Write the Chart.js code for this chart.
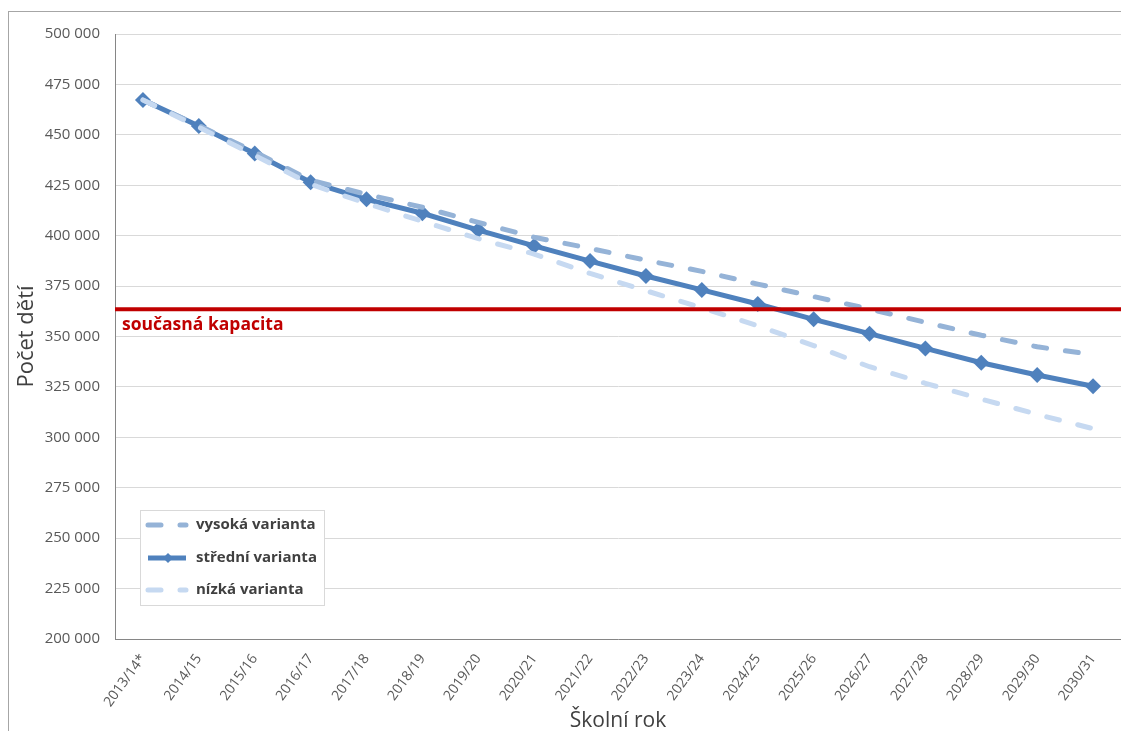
<!DOCTYPE html>
<html>
<head>
<meta charset="utf-8">
<script src="https://cdn.jsdelivr.net/npm/chart.js@4"></script>
<style>
  html, body { margin: 0; padding: 0; background: #fff; }
  #wrap { width: 1121px; height: 731px; }
</style>
</head>
<body>
<div id="wrap"><canvas id="projekce" width="1121" height="731"></canvas></div>
<script>
// school years (x axis)
const skolniRoky = ['2013/14*', '2014/15', '2015/16', '2016/17', '2017/18', '2018/19',
  '2019/20', '2020/21', '2021/22', '2022/23', '2023/24', '2024/25', '2025/26',
  '2026/27', '2027/28', '2028/29', '2029/30', '2030/31'];

// projected number of children, three variants
const vysoka = [467300, 454600, 441500, 427500, 420500, 414100, 406600, 399200, 393700,
  387800, 382300, 376000, 369800, 363600, 357000, 350600, 344900, 341000];
const stredni = [467300, 454400, 440700, 426500, 418000, 411100, 402800, 394900, 387400,
  380000, 373100, 366100, 358500, 351400, 344100, 337000, 330900, 325300];
const nizka = [467300, 453800, 439800, 425500, 416000, 407100, 398500, 390900, 381300,
  372700, 364300, 355300, 345500, 335000, 326800, 319000, 311400, 304300];

// current capacity
const kapacita = 363500;
const kapacitaPopis = 'současná kapacita';

const font = '"Open Sans", "DejaVu Sans", sans-serif';

// outer frame + capacity line + legend inside plot
const kresleni = {
  id: 'kresleni',
  beforeDraw(chart) {
    const ctx = chart.ctx;
    ctx.save();
    ctx.strokeStyle = '#a6a6a6';
    ctx.lineWidth = 1;
    ctx.strokeRect(8.5, 11.5, 1300, 1000);
    ctx.restore();
  },
  afterDatasetsDraw(chart) {
    const ctx = chart.ctx;
    const area = chart.chartArea;
    const y = chart.scales.y.getPixelForValue(kapacita);
    ctx.save();
    ctx.strokeStyle = '#c00000';
    ctx.lineWidth = 4;
    ctx.beginPath();
    ctx.moveTo(area.left, y);
    ctx.lineTo(area.right, y);
    ctx.stroke();
    ctx.fillStyle = '#c00000';
    ctx.font = 'bold 17.5px ' + font;
    ctx.textBaseline = 'middle';
    ctx.textAlign = 'left';
    ctx.fillText(kapacitaPopis, area.left + 7, y + 16);

    // legend box
    const lx = 140, ly = 510, lw = 184, lh = 95;
    ctx.fillStyle = '#ffffff';
    ctx.fillRect(lx, ly, lw, lh);
    ctx.strokeStyle = '#d9d9d9';
    ctx.lineWidth = 1;
    ctx.strokeRect(lx + 0.5, ly + 0.5, lw, lh);
    const rows = [525, 558, 590];
    chart.data.datasets.forEach((ds, i) => {
      const ry = rows[i];
      ctx.strokeStyle = ds.borderColor;
      ctx.lineWidth = ds.borderWidth;
      ctx.lineCap = ds.borderCapStyle || 'butt';
      ctx.setLineDash(ds.borderDash || []);
      ctx.beginPath();
      ctx.moveTo(148, ry);
      ctx.lineTo(186, ry);
      ctx.stroke();
      ctx.setLineDash([]);
      if (ds.pointRadius > 0) {
        ctx.fillStyle = ds.borderColor;
        ctx.beginPath();
        ctx.moveTo(168, ry - 5);
        ctx.lineTo(173, ry);
        ctx.lineTo(168, ry + 5);
        ctx.lineTo(163, ry);
        ctx.closePath();
        ctx.fill();
      }
      ctx.fillStyle = '#404040';
      ctx.font = 'bold 15px ' + font;
      ctx.textBaseline = 'middle';
      ctx.fillText(ds.label, 196, ry);
    });
    ctx.restore();
  }
};

new Chart(document.getElementById('projekce'), {
  type: 'line',
  data: {
    labels: skolniRoky,
    datasets: [
      {
        label: 'vysoká varianta',
        data: vysoka,
        borderColor: '#95b3d7',
        borderWidth: 5,
        borderDash: [13, 19],
        borderCapStyle: 'round',
        pointRadius: 0,
        tension: 0,
        order: 1
      },
      {
        label: 'střední varianta',
        data: stredni,
        borderColor: '#4f81bd',
        backgroundColor: '#4f81bd',
        borderWidth: 5,
        pointStyle: 'rectRot',
        pointRadius: 8,
        pointBorderWidth: 0,
        pointBackgroundColor: '#4f81bd',
        tension: 0,
        order: 2
      },
      {
        label: 'nízká varianta',
        data: nizka,
        borderColor: '#c6d9f1',
        borderWidth: 5,
        borderDash: [13, 19],
        borderCapStyle: 'round',
        pointRadius: 0,
        tension: 0,
        order: 0
      }
    ]
  },
  options: {
    responsive: false,
    animation: false,
    devicePixelRatio: 1,
    layout: { autoPadding: false, padding: { top: 34, left: 8, right: 0, bottom: 0 } },
    plugins: {
      legend: { display: false },
      tooltip: { enabled: false }
    },
    scales: {
      x: {
        offset: true,
        grid: { display: false, drawTicks: false },
        border: { color: '#868686', width: 1 },
        ticks: {
          color: '#595959',
          font: { family: font, size: 14 },
          minRotation: 54,
          maxRotation: 54,
          padding: 12,
          autoSkip: false
        },
        title: {
          display: true,
          text: 'Školní rok',
          color: '#404040',
          font: { family: font, size: 21 },
          padding: { top: 0, bottom: -3 }
        },
        afterFit(scale) {
          scale.height = 92;
          scale.paddingLeft = 0;
          scale.paddingRight = 0;
        }
      },
      y: {
        min: 200000,
        max: 500000,
        grid: { color: '#d9d9d9', drawTicks: false },
        border: { color: '#868686', width: 1 },
        ticks: {
          stepSize: 25000,
          color: '#595959',
          font: { family: font, size: 15 },
          padding: 15,
          callback: v => String(v).replace(/\B(?=(\d{3})+(?!\d))/g, ' ')
        },
        title: {
          display: true,
          text: 'Počet dětí',
          color: '#404040',
          font: { family: font, size: 22 },
          padding: { top: 6, bottom: 0 }
        },
        afterFit(scale) { scale.width = 107; }
      }
    }
  },
  plugins: [kresleni]
});
</script>
</body>
</html>
